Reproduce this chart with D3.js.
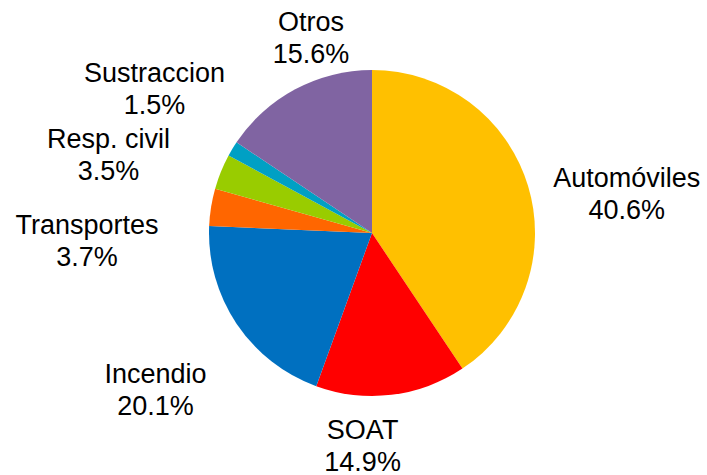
<!DOCTYPE html>
<html lang="es">
<head>
  <meta charset="UTF-8">
  <title>Distribución por ramo</title>
  <script src="https://d3js.org/d3.v7.min.js"></script>
  <style>
    html, body { margin: 0; padding: 0; background: #fff; }
    svg { display: block; }
    text { font-family: "Liberation Sans", Arial, sans-serif; fill: #000; }
  </style>
</head>
<body>
<script>
// datos del grafico (porcentaje por ramo)
var ramos = ["Automóviles", "SOAT", "Incendio", "Transportes", "Resp. civil", "Sustraccion", "Otros"];
var valores = [40.6, 14.9, 20.1, 3.7, 3.5, 1.5, 15.6];
var colores = ["#FFC000", "#FF0000", "#0070C0", "#FF6600", "#99CC00", "#00A0C4", "#8064A2"];

// ajuste manual de etiquetas, como en el original
var ajuste = [[25, 30], [-38, -26], [-17, 23], [-48, 45], [-41, 12], [-12, -21], [52, 16]];

var width = 707, height = 475,
    cx = 372, cy = 233, radius = 163;

var svg = d3.select("body")
  .append("svg")
  .attr("width", width)
  .attr("height", height);

var g = svg.append("g").attr("transform", "translate(" + cx + "," + cy + ")");

var data = ramos.map(function(d, i) { return {name: d, value: valores[i], color: colores[i], i: i}; });

var pie = d3.pie().sort(null).value(function(d) { return d.value; });
var arc = d3.arc().innerRadius(0).outerRadius(radius);
var labelArc = d3.arc().innerRadius(240).outerRadius(240);

var arcs = pie(data);

g.selectAll("path.slice")
  .data(arcs)
  .enter().append("path")
  .attr("class", "slice")
  .attr("d", arc)
  .attr("fill", function(d) { return d.data.color; });

var fmt = d3.format(".1f");
var lbl = g.selectAll("text.lbl")
  .data(arcs)
  .enter().append("text")
  .attr("class", "lbl")
  .attr("text-anchor", "middle")
  .style("font-size", "27px")
  .attr("transform", function(d) {
    var c = labelArc.centroid(d), a = ajuste[d.data.i];
    return "translate(" + (c[0] + a[0]) + "," + (c[1] + a[1]) + ")";
  });

lbl.append("tspan").attr("x", 0).attr("y", -6.5).text(function(d) { return d.data.name; });
lbl.append("tspan").attr("x", 0).attr("y", 25.5).text(function(d) { return fmt(d.data.value) + "%"; });
</script>
</body>
</html>
